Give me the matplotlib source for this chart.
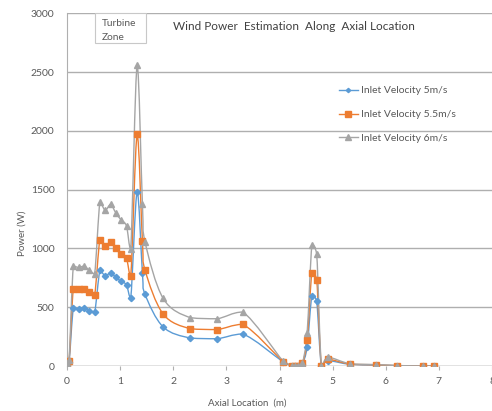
"""
Wind power along the axial location, three inlet velocities (Excel-style smoothed lines)
"""

import matplotlib
matplotlib.use("Agg")
import matplotlib.pyplot as plt
from matplotlib.path import Path
from matplotlib.patches import PathPatch, Rectangle
import numpy as np

plt.rcParams['font.family'] = ['Lato', 'DejaVu Sans']

# --- data ---
axial_location = [0, 0.04, 0.12, 0.22, 0.32, 0.42, 0.52, 0.62, 0.72, 0.82, 0.92, 1.02,
                  1.12, 1.2, 1.32, 1.42, 1.47, 1.81, 2.32, 2.82, 3.31, 4.07, 4.23, 4.29,
                  4.35, 4.43, 4.52, 4.61, 4.70, 4.79, 4.92, 5.32, 5.81, 6.22, 6.71, 6.90]
power_5 = [15, 35, 490, 488, 495, 470, 457, 814, 765, 793, 754, 720, 689, 578, 1482, 791,
           609, 332, 238, 232, 272, 35, 0, 0, 0, 20, 164, 598, 550, 0, 45, 15, 8, 3, 0, 0]
power_55 = [20, 45, 657, 652, 657, 629, 606, 1074, 1023, 1054, 1006, 955, 916, 765, 1970,
            1060, 814, 442, 317, 310, 354, 38, 0, 0, 0, 23, 221, 793, 734, 0, 57, 17, 10,
            3, 0, 0]
power_6 = [25, 55, 850, 838, 850, 814, 785, 1392, 1324, 1375, 1301, 1241, 1190, 995, 2560,
           1377, 1054, 575, 411, 402, 459, 40, 0, 0, 0, 25, 283, 1026, 952, 0, 74, 20, 12,
           4, 0, 0]

series = [
    ("Inlet Velocity 5m/s", power_5, '#5B9BD5', 'D', 3.2),
    ("Inlet Velocity 5.5m/s", power_55, '#ED7D31', 's', 4.8),
    ("Inlet Velocity 6m/s", power_6, '#A5A5A5', '^', 4.8),
]

TEXT = '#595959'
GRID = '#AFAFAF'


def smooth_path(x, y):
    """Bezier through the points like Excel's smoothed line, with the overshoot held back."""
    pts = np.column_stack([x, y]).astype(float)
    n = len(pts)
    verts = [pts[0]]
    codes = [Path.MOVETO]
    for i in range(n - 1):
        p0 = pts[i - 1] if i > 0 else pts[i]
        p1 = pts[i]
        p2 = pts[i + 1]
        p3 = pts[i + 2] if i + 2 < n else pts[i + 1]
        c1 = p1 + (p2 - p0) / 6.0
        c2 = p2 - (p3 - p1) / 6.0
        lo, hi = min(p1[1], p2[1]), max(p1[1], p2[1])
        c1[1] = np.clip(c1[1], lo, hi)
        c2[1] = np.clip(c2[1], lo, hi)
        verts += [c1, c2, p2]
        codes += [Path.CURVE4] * 3
    return Path(verts, codes)


fig = plt.figure(figsize=(4.92, 4.11), dpi=100)
ax = fig.add_axes([67 / 492, 1 - 366 / 411, 425 / 492, 352.7 / 411])

for label, values, color, marker, ms in series:
    ax.add_patch(PathPatch(smooth_path(axial_location, values), facecolor='none',
                           edgecolor=color, linewidth=1.0, zorder=2))
    ax.plot(axial_location, values, linestyle='none', marker=marker, markersize=ms,
            color=color, zorder=3)
    # legend handle only
    ax.plot([], [], color=color, marker=marker, markersize=ms - 1, linewidth=1.0,
            label=label)

ax.set_xlim(0, 8)
ax.set_ylim(0, 3000)
ax.set_xticks(range(0, 9))
ax.set_yticks(range(0, 3001, 500))
ax.grid(True, axis='y', color=GRID, linewidth=1.0, zorder=0)
ax.set_axisbelow(True)
for side in ['top', 'right', 'bottom']:
    ax.spines[side].set_visible(False)
ax.spines['left'].set_color(GRID)
ax.tick_params(axis='y', length=0, labelsize=7.5, labelcolor=TEXT, pad=9)
ax.tick_params(axis='x', length=3, color=GRID, labelsize=7.5, labelcolor=TEXT, pad=5)
ax.axhline(0, color=GRID, linewidth=1.0, zorder=1)

# titles / labels placed like the Excel chart
fig.text(294 / 492, 1 - 27 / 411, "Wind Power  Estimation  Along  Axial Location",
         ha='center', va='center', fontsize=8.5, color='#404040')
fig.text(22 / 492, 1 - 233 / 411, "Power (W)", rotation=90, ha='center', va='center',
         fontsize=7, color=TEXT)
fig.text(247 / 492, 1 - 403 / 411, "Axial Location  (m)", ha='center', va='center',
         fontsize=7, color=TEXT)

# "Turbine Zone" box
fig.patches.append(Rectangle((95 / 492, 1 - 43 / 411), 51 / 492, 30 / 411,
                             transform=fig.transFigure, facecolor='white',
                             edgecolor='#C8C8C8', linewidth=0.8, zorder=5))
fig.text(102 / 492, 1 - 24 / 411, "Turbine", ha='left', va='center', fontsize=7.3,
         color=TEXT, zorder=6)
fig.text(102 / 492, 1 - 38 / 411, "Zone", ha='left', va='center', fontsize=7.3,
         color=TEXT, zorder=6)

ax.legend(loc='upper left', bbox_to_anchor=(339 / 492, 1 - 86 / 411),
          bbox_transform=fig.transFigure, frameon=False, fontsize=7.5, labelspacing=1.4,
          handlelength=1.8, handletextpad=0.3, borderpad=0, borderaxespad=0,
          labelcolor=TEXT)

fig.savefig("out.png", dpi=100)
